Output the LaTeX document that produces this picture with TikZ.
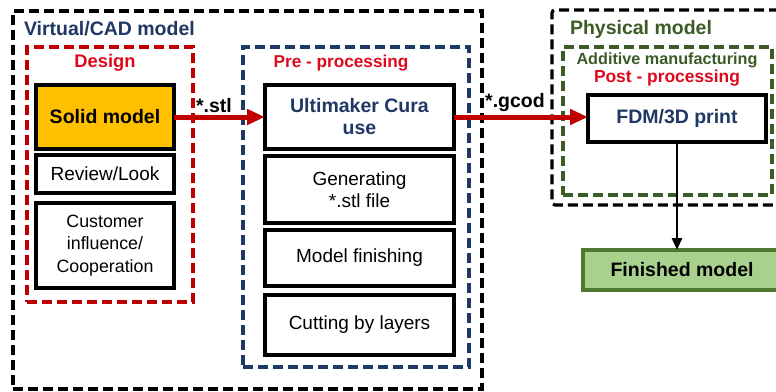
\documentclass[tikz,border=0pt]{standalone}
\usepackage{fontspec}
\setmainfont{Liberation Sans}
\usetikzlibrary{arrows.meta}
\definecolor{navy}{HTML}{1F3864}
\definecolor{framered}{HTML}{C00000}
\definecolor{labelred}{HTML}{DD0A1E}
\definecolor{darkgreen}{HTML}{3B5B27}
\definecolor{solidfill}{HTML}{FFC000}
\definecolor{finfill}{HTML}{A9D18E}
\definecolor{finborder}{HTML}{4E7A33}
\tikzset{
  every node/.style={inner sep=0pt, outer sep=0pt, align=center},
  frame/.style={draw, line width=3.2pt, dash pattern=on 10pt off 5pt, anchor=north west},
  stepbox/.style={draw=black, line width=3.6pt, fill=white, text=black,
    minimum width=138pt, font=\fontsize{19}{22}\selectfont},
  boldtxt/.style={font=\fontsize{19.5}{22}\bfseries\selectfont},
  redarrow/.style={draw=framered, line width=5pt,
    -{Triangle[length=18pt,width=15pt]}},
}
\begin{document}
\begin{tikzpicture}[x=1pt,y=-1pt]
\clip (0,0) rectangle (776,391);
\fill[white] (0,0) rectangle (776,391);

% dashed frames
\node[frame, draw=black, minimum width=469pt, minimum height=378pt] (virtual) at (13,11) {};
\node[frame, draw=framered, minimum width=166pt, minimum height=255pt] (design) at (27,47) {};
\node[frame, draw=navy, minimum width=226pt, minimum height=320pt] (pre) at (243,47) {};
\node[frame, draw=black, rounded corners=3pt, minimum width=260pt, minimum height=195pt] (physical) at (552,10) {};
\node[frame, draw=darkgreen, minimum width=209pt, minimum height=148pt] (additive) at (563,47) {};

% frame titles
\node[boldtxt, text=navy, anchor=west] (tvirtual) at (24,29) {Virtual/CAD model};
\node[text=labelred, font=\fontsize{18.3}{22}\bfseries\selectfont] (tdesign) at (105,63) {Design};
\node[text=labelred, font=\fontsize{17.2}{22}\bfseries\selectfont] (tpre) at (341,63) {Pre - processing};
\node[boldtxt, text=darkgreen, anchor=west] (tphysical) at (570,29) {Physical model};
\node[text=darkgreen, font=\fontsize{16.2}{20}\bfseries\selectfont] (tadditive) at (667,60) {Additive manufacturing};
\node[text=labelred, font=\fontsize{17.4}{20}\bfseries\selectfont] (tpost) at (667,78) {Post - processing};

% design column
\node[stepbox, fill=solidfill, minimum height=64pt, boldtxt] (solid) at (105,117) {Solid model};
\node[stepbox, minimum height=38pt] (review) at (105,174) {Review/Look};
\node[stepbox, minimum height=85pt, font=\fontsize{17.8}{22.3}\selectfont] (customer) at (105,245.5) {Customer\\influence/\\Cooperation};

% pre-processing column
\node[stepbox, minimum width=189pt, minimum height=64pt, boldtxt, text=navy] (cura) at (359.5,117) {Ultimaker Cura\\use};
\node[stepbox, minimum width=189pt, minimum height=67pt, font=\fontsize{19}{21.7}\selectfont] (generating) at (359.5,189.5) {Generating\\*.stl file};
\node[stepbox, minimum width=189pt, minimum height=56pt] (finishing) at (359.5,258) {Model finishing};
\node[stepbox, minimum width=189pt, minimum height=60pt] (cutting) at (359.5,325) {Cutting by layers};

% physical side
\node[stepbox, minimum width=178pt, minimum height=47pt, boldtxt, text=navy] (fdm) at (677,118.5) {FDM/3D print};
\node[stepbox, draw=finborder, fill=finfill, minimum width=198pt, minimum height=40pt, boldtxt] (finished) at (682,270) {Finished model};

% file-format labels
\node[boldtxt] (lstl) at (214,106) {*.stl};
\node[boldtxt] (lgcod) at (515,102) {*.gcod};

% connectors
\draw[redarrow] (solid.east) -- (cura.west);
\draw[redarrow] (cura.east) -- (cura.east -| fdm.west);
\draw[black, line width=2.8pt, -{Triangle[length=12pt,width=10pt]}] (fdm.south) -- (fdm.south |- finished.north);
\end{tikzpicture}
\end{document}
